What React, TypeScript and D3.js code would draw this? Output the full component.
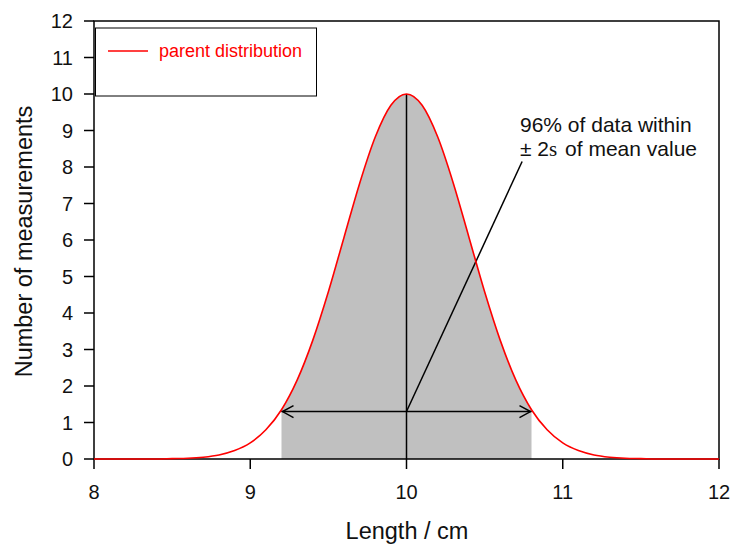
import React from "react";
import * as d3 from "d3";

// Parent distribution curve, sampled every 0.1 cm from 8 to 12 cm
const lengths = d3.range(0, 41).map((i) => +(8 + i * 0.1).toFixed(1));
const counts = [
  0, 0, 0, 0, 0, 0.01, 0.02, 0.05, 0.11, 0.23,
  0.44, 0.8, 1.35, 2.16, 3.25, 4.58, 6.07, 7.55, 8.82, 9.69,
  10, 9.69, 8.82, 7.55, 6.07, 4.58, 3.25, 2.16, 1.35, 0.8,
  0.44, 0.23, 0.11, 0.05, 0.02, 0.01, 0, 0, 0, 0,
  0,
];

const xTicks = [8, 9, 10, 11, 12];
const yTicks = [0, 1, 2, 3, 4, 5, 6, 7, 8, 9, 10, 11, 12];

const meanValue = 10;
const peakValue = 10;
const bandLow = 9.2;
const bandHigh = 10.8;
const bandLevel = 1.3;

const W = 734;
const H = 545;
const m = { left: 94, right: 15, top: 21, bottom: 86 };

const FONT = "'Liberation Sans', Arial, sans-serif";

export default function App() {
  const x = d3.scaleLinear().domain([8, 12]).range([m.left, W - m.right]);
  const y = d3.scaleLinear().domain([0, 12]).range([H - m.bottom, m.top]);

  const pts: [number, number][] = lengths.map((l, i) => [l, counts[i]]);
  const line = d3
    .line<[number, number]>()
    .x((d) => x(d[0]))
    .y((d) => y(d[1]))
    .curve(d3.curveMonotoneX);
  const area = d3
    .area<[number, number]>()
    .x((d) => x(d[0]))
    .y0(y(0))
    .y1((d) => y(d[1]))
    .curve(d3.curveMonotoneX);
  const band = pts.filter((p) => p[0] >= bandLow - 1e-9 && p[0] <= bandHigh + 1e-9);

  const ax = x(bandLow);
  const bx = x(bandHigh);
  const ay = y(bandLevel);
  const mx = x(meanValue);

  const labelX = x(10.74);
  const labelY = y(8.15);

  return (
    <svg width={W} height={H} style={{ position: "absolute", left: 0, top: 0 }}>
      <rect width={W} height={H} fill="#fff" />
      {/* shaded ±2σ region */}
      <path d={area(band) || ""} fill="#c0c0c0" />
      {/* frame */}
      <rect
        x={m.left}
        y={m.top}
        width={W - m.left - m.right}
        height={H - m.top - m.bottom}
        fill="none"
        stroke="#000"
        strokeWidth={1.5}
      />
      {/* y ticks */}
      {yTicks.map((t) => (
        <g key={"y" + t}>
          <line x1={m.left - 10} x2={m.left} y1={y(t)} y2={y(t)} stroke="#000" strokeWidth={1.5} />
          <text x={m.left - 21} y={y(t) + 7} textAnchor="end" fontFamily={FONT} fontSize={20} fill="#111">
            {t}
          </text>
        </g>
      ))}
      {/* x ticks */}
      {xTicks.map((t) => (
        <g key={"x" + t}>
          <line x1={x(t)} x2={x(t)} y1={y(0)} y2={y(0) + 10} stroke="#000" strokeWidth={1.5} />
          <text x={x(t)} y={499} textAnchor="middle" fontFamily={FONT} fontSize={20} fill="#111">
            {t}
          </text>
        </g>
      ))}
      {/* mean line */}
      <line x1={mx} x2={mx} y1={y(0)} y2={y(peakValue)} stroke="#000" strokeWidth={1.5} />
      {/* double arrow */}
      <line x1={ax} x2={bx} y1={ay} y2={ay} stroke="#000" strokeWidth={1.5} />
      <path
        d={`M${ax + 12},${ay - 6} L${ax + 1},${ay} L${ax + 12},${ay + 6}`}
        fill="none"
        stroke="#000"
        strokeWidth={1.5}
      />
      <path
        d={`M${bx - 12},${ay - 6} L${bx - 1},${ay} L${bx - 12},${ay + 6}`}
        fill="none"
        stroke="#000"
        strokeWidth={1.5}
      />
      {/* pointer to annotation */}
      <line x1={mx} y1={ay} x2={labelX} y2={labelY} stroke="#000" strokeWidth={1.5} />
      {/* curve */}
      <path d={line(pts) || ""} fill="none" stroke="#ff0000" strokeWidth={1.6} />
      {/* annotation */}
      <text x={520} y={132} fontFamily={FONT} fontSize={21} fill="#111">
        96% of data within
      </text>
      <text x={520} y={156} fontFamily={FONT} fontSize={21} fill="#111">
        ± 2<tspan fontFamily="'Liberation Serif', 'Times New Roman', serif">s</tspan>
        <tspan dx={2}> of mean value</tspan>
      </text>
      {/* legend */}
      <rect x={95.5} y={28} width={221} height={68} fill="#fff" stroke="#000" strokeWidth={1} />
      <line x1={108} x2={148} y1={51} y2={51} stroke="#ff0000" strokeWidth={1.5} />
      <text x={159} y={57} fontFamily={FONT} fontSize={18} fill="#ff0000">
        parent distribution
      </text>
      {/* axis titles */}
      <text
        x={(m.left + W - m.right) / 2 + 0.5}
        y={539}
        textAnchor="middle"
        fontFamily={FONT}
        fontSize={23.5}
        fill="#111"
      >
        Length / cm
      </text>
      <text
        transform={`translate(32, ${(m.top + H - m.bottom) / 2 + 1.5}) rotate(-90)`}
        textAnchor="middle"
        fontFamily={FONT}
        fontSize={23.5}
        fill="#111"
      >
        Number of measurements
      </text>
    </svg>
  );
}
